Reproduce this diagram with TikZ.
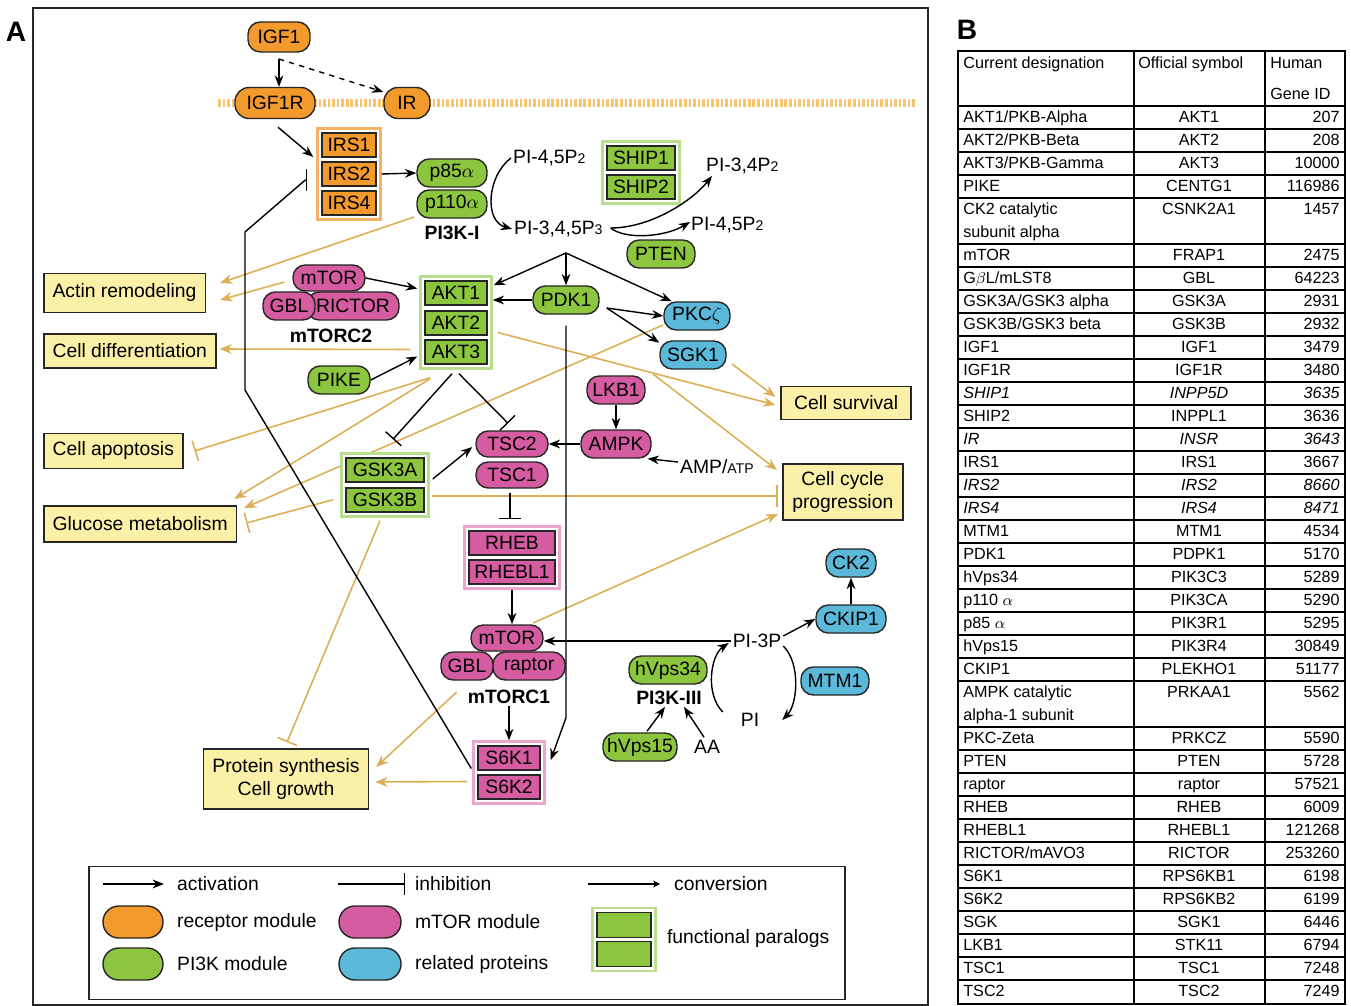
\documentclass[tikz,border=0pt]{standalone}
\usepackage{fontspec}
\setmainfont{Liberation Sans}
\usetikzlibrary{arrows.meta,shapes.misc,fit,calc,positioning}

\definecolor{recorange}{HTML}{F39A2C}
\definecolor{membr}{HTML}{F7C476}
\definecolor{paraorange}{HTML}{F5B262}
\definecolor{pigreen}{HTML}{8CC63F}
\definecolor{paragreen}{HTML}{B9DE8E}
\definecolor{mtpink}{HTML}{D55CA0}
\definecolor{parapink}{HTML}{EBA6D0}
\definecolor{relblue}{HTML}{5BB8D8}
\definecolor{outyellow}{HTML}{FAF0A8}
\definecolor{effgold}{HTML}{DDAF55}

\pgfdeclarelayer{back}
\pgfdeclarelayer{frame}
\pgfsetlayers{back,frame,main}

\tikzset{
  boxw/.style={minimum width=#1*0.02cm},
  boxh/.style={minimum height=#1*0.02cm},
  lbl/.style={font=\fontsize{11}{13}\selectfont, inner sep=1pt},
  cplx/.style={font=\bfseries\fontsize{11}{13}\selectfont, inner sep=1pt},
  prot/.style={rectangle, rounded corners=7pt, draw=black!85, line width=0.8pt, boxh=28, inner xsep=2pt, inner ysep=0pt, font=\fontsize{11}{13}\selectfont},
  recmod/.style={prot, fill=recorange},
  pimod/.style={prot, fill=pigreen},
  mtmod/.style={prot, fill=mtpink},
  relmod/.style={prot, fill=relblue},
  paralog/.style={rectangle, draw=black!85, line width=0.8pt, boxh=24, inner sep=0pt, font=\fontsize{11}{13}\selectfont},
  famframe/.style={rectangle, draw=#1, line width=1.3pt, fill=white, inner sep=2.2pt},
  effect/.style={rectangle, draw=black!85, line width=0.9pt, fill=outyellow, inner xsep=5pt, boxh=35, font=\fontsize{11}{13}\selectfont, align=center},
  act/.style={-{Stealth[length=6.5pt,width=5pt]}, line width=0.8pt},
  inh/.style={-{Bar[width=12pt,line width=0.8pt]}, line width=0.8pt},
  gact/.style={draw=effgold, -{Stealth[length=7pt,width=5.5pt]}, line width=0.9pt},
  ginh/.style={draw=effgold, -{Bar[width=12pt]}, line width=0.9pt},
  tcell/.style={font=\fontsize{9.2}{13}\selectfont, inner sep=0pt},
}

\newcommand{\lowdigit}[1]{{\fontsize{8}{8}\selectfont #1}}
% one line of the gene table: key, y, designation, symbol, gene id
\newcommand{\genrow}[5]{%
  \node[tcell,anchor=mid west] (d#1) at (963,#2) {#3};
  \node[tcell,anchor=mid] (s#1) at (1199,#2) {#4};
  \node[tcell,anchor=mid east] (g#1) at (1340,#2) {#5};}

\begin{document}
\begin{tikzpicture}[x=0.02cm,y=-0.02cm]
\useasboundingbox (0,0) rectangle (1351,1006);

% panel A
\draw[line width=1pt, draw=black!85] (33,8) rectangle (928,1005);
\node[font=\bfseries\fontsize{16}{16}\selectfont] (panelA) at (16,32) {A};
\begin{pgfonlayer}{back}
\draw[membr, line width=5pt, dash pattern=on 1.5pt off 1.1pt] (218,103) -- (915,103);
\end{pgfonlayer}

% receptor module
\node[recmod, boxw=62, boxh=30] (IGF1) at (279,37) {IGF1};
\node[recmod, boxw=80, boxh=31, rounded corners=8pt] (IGF1R) at (275,103) {IGF1R};
\node[recmod, boxw=46, boxh=31, rounded corners=8pt] (IR) at (407,103) {IR};
\node[paralog, fill=recorange, boxw=54] (IRS1) at (349,145) {IRS1};
\node[paralog, fill=recorange, boxw=54] (IRS2) at (349,174) {IRS2};
\node[paralog, fill=recorange, boxw=54] (IRS4) at (349,203) {IRS4};

% PI3K class I and lipids
\node[pimod, boxw=70] (p85) at (452,173) {p85$\alpha$};
\node[pimod, boxw=70] (p110) at (452,204) {p110$\alpha$};
\node[cplx] (PIthreeKI) at (452,233) {PI3K-I};
\node[lbl, anchor=west] (PIPtwoA) at (511,158) {PI-4,5P\lowdigit{2}};
\node[lbl, anchor=west] (PIPthree) at (512,229) {PI-3,4,5P\lowdigit{3}};
\node[paralog, fill=pigreen, boxw=68] (SHIP1) at (641,158) {SHIP1};
\node[paralog, fill=pigreen, boxw=68] (SHIP2) at (641,187) {SHIP2};
\node[lbl, anchor=west] (PIPtwoC) at (704,166) {PI-3,4P\lowdigit{2}};
\node[lbl, anchor=west] (PIPtwoB) at (689,225) {PI-4,5P\lowdigit{2}};
\node[pimod, boxw=68] (PTEN) at (661,254) {PTEN};

% mTORC2, AKT, PDK1
\node[mtmod, boxw=92] (RICTOR) at (353,306) {RICTOR};
\node[mtmod, boxw=52] (GBLb) at (289,306) {GBL};
\node[mtmod, boxw=72, boxh=26] (mTORb) at (329,278) {mTOR};
\node[cplx] (mTORCtwo) at (331,336) {mTORC2};
\node[paralog, fill=pigreen, boxw=62] (AKT1) at (456,293) {AKT1};
\node[paralog, fill=pigreen, boxw=62] (AKT2) at (456,323) {AKT2};
\node[paralog, fill=pigreen, boxw=62] (AKT3) at (456,352) {AKT3};
\node[pimod, boxw=62] (PIKE) at (339,380) {PIKE};
\node[pimod, boxw=66] (PDK1) at (566,300) {PDK1};
\node[relmod, boxw=66] (PKCz) at (697,316) {PKC$\zeta$};
\node[relmod, boxw=66] (SGK1) at (693,355) {SGK1};

% TSC, AMPK, GSK3
\node[mtmod, boxw=58] (LKB1) at (616,390) {LKB1};
\node[mtmod, boxw=70] (AMPK) at (616,444) {AMPK};
\node[lbl, anchor=west] (AMPATP) at (678,467) {AMP/{\fontsize{8}{8}\selectfont ATP}};
\node[mtmod, boxw=72, boxh=26] (TSC2) at (512,444) {TSC2};
\node[mtmod, boxw=72, boxh=26] (TSC1) at (512,475) {TSC1};
\node[paralog, fill=pigreen, boxw=78] (GSK3A) at (385,470) {GSK3A};
\node[paralog, fill=pigreen, boxw=78] (GSK3B) at (385,500) {GSK3B};
\node[paralog, fill=mtpink, boxw=86] (RHEB) at (512,543) {RHEB};
\node[paralog, fill=mtpink, boxw=86] (RHEBL1) at (512,572) {RHEBL1};

% mTORC1 and S6K
\node[mtmod, boxw=72] (raptor) at (529,666) {raptor};
\node[mtmod, boxw=52] (GBLa) at (467,666) {GBL};
\node[mtmod, boxw=72, boxh=26] (mTORa) at (507,638) {mTOR};
\node[cplx] (mTORCone) at (509,697) {mTORC1};
\node[paralog, fill=mtpink, boxw=62] (S6K1) at (509,758) {S6K1};
\node[paralog, fill=mtpink, boxw=62] (S6K2) at (509,787) {S6K2};

% PI3K class III
\node[lbl] (PIthreeP) at (757,641) {PI-3P};
\node[lbl] (PI) at (750,720) {PI};
\node[relmod, boxw=70] (CKIP1) at (851,619) {CKIP1};
\node[relmod, boxw=50] (CK2) at (851,563) {CK2};
\node[relmod, boxw=68] (MTM1) at (835,681) {MTM1};
\node[pimod, boxw=78] (hVpsA) at (668,670) {hVps34};
\node[cplx] (PIthreeKIII) at (669,698) {PI3K-III};
\node[pimod, boxw=74] (hVpsB) at (640,747) {hVps15};
\node[lbl] (AA) at (707,747) {AA};

% cellular outcomes
\node[effect, anchor=west, boxh=39] (Actin) at (43,293) {Actin remodeling};
\node[effect, anchor=west, boxh=34] (CellDiff) at (43,351) {Cell differentiation};
\node[effect, anchor=west] (Apopt) at (43,451) {Cell apoptosis};
\node[effect, anchor=west, boxh=36] (Glucose) at (43,524) {Glucose metabolism};
\node[effect, anchor=east, boxw=130, boxh=33] (Survival) at (912,403) {Cell survival};
\node[effect, anchor=west, boxw=120, boxh=56] (CellCycle) at (782,492) {Cell cycle\\progression};
\node[effect, boxw=164, boxh=60] (Protein) at (286,779) {Protein synthesis\\Cell growth};

% legend
\node[draw=black!85, line width=1pt, boxw=756, boxh=133, inner sep=0pt] (legend) at (467,933) {};
\node[lbl, anchor=west] (legactlbl) at (175,884) {activation};
\node[lbl, anchor=west] (leginhlbl) at (413,884) {inhibition};
\node[lbl, anchor=west] (legconvlbl) at (672,884) {conversion};
\node[recmod, boxw=60, boxh=32, rounded corners=9pt] (legrec) at (133,922) {};
\node[lbl, anchor=west] (legreclbl) at (175,922) {receptor module};
\node[pimod, boxw=60, boxh=32, rounded corners=9pt] (legpi) at (133,964) {};
\node[lbl, anchor=west] (legpilbl) at (175,964) {PI3K module};
\node[mtmod, boxw=62, boxh=32, rounded corners=9pt] (legmt) at (370,922) {};
\node[lbl, anchor=west] (legmtlbl) at (413,922) {mTOR module};
\node[relmod, boxw=62, boxh=32, rounded corners=9pt] (legrel) at (370,964) {};
\node[lbl, anchor=west] (legrellbl) at (413,964) {related proteins};
\node[paralog, fill=pigreen, boxw=54, boxh=25] (legpa) at (624,925) {};
\node[paralog, fill=pigreen, boxw=54, boxh=25] (legpb) at (624,954) {};
\node[lbl, anchor=west] (legparlbl) at (665,938) {functional paralogs};
\coordinate (legact) at (103,884);
\coordinate (leginh) at (338,884);
\coordinate (legconv) at (588,884);
\draw[act] (legact) -- ($(legactlbl.west)+(-11,0)$);
\draw[inh] (leginh) -- ($(leginhlbl.west)+(-8,0)$);
\draw[-{Stealth[length=4pt,width=4pt]}, line width=0.8pt] (legconv) -- ($(legconvlbl.west)+(-12,0)$);

% paralog frames
\begin{pgfonlayer}{frame}
\node[famframe=paraorange, fit=(IRS1) (IRS4)] (IRSbox) {};
\node[famframe=paragreen, fit=(SHIP1) (SHIP2)] (SHIPbox) {};
\node[famframe=paragreen, fit=(AKT1) (AKT3)] (AKTbox) {};
\node[famframe=paragreen, fit=(GSK3A) (GSK3B)] (GSKbox) {};
\node[famframe=parapink, fit=(RHEB) (RHEBL1)] (RHEBbox) {};
\node[famframe=parapink, fit=(S6K1) (S6K2)] (S6Kbox) {};
\node[famframe=paragreen, fit=(legpa) (legpb)] (legpar) {};
\end{pgfonlayer}

% signalling (black)
\coordinate (IGFsplit) at (279,59);
\draw[act] (IGFsplit) -- (IGFsplit |- IGF1R.north);
\draw[act, dashed] (IGFsplit) -- (IR.155);
\draw[act] ($(IGF1R.south)+(3,8)$) -- ($(IRSbox.west)+(-3,-17)$);
\coordinate (fbA) at (245,390);
\coordinate (fbB) at (245,232);
\draw[inh] ($(S6Kbox.west)+(-1,-4)$) -- (fbA) -- (fbB) -- ($(IRSbox.west)+(-11,6)$) -- ($(IRSbox.west)+(-9,6)$);
\draw[act] (IRSbox.east |- IRS2) -- (p85.west);
\draw[act] (PIPtwoA.west) .. controls +(-24,18) and +(-28,-8) .. (PIPthree.west);
\coordinate (PIPout) at ($(PIPthree.east)+(6,-1)$);
\draw[act] (PIPout) .. controls +(40,0) and +(-20,25) .. ($(PIPtwoC.west)+(8,10)$);
\draw[act] (PIPout) .. controls +(15,12) and +(-25,15) .. ($(PIPtwoB.west)+(1,-3)$);
\coordinate (PIfork) at (566,253);
\draw[act] (PIfork) -- ($(AKTbox.north east)+(1,10)$);
\draw[act] (PIfork) -- (PDK1.north);
\draw[act] (PIfork) -- (PKCz.150);
\draw[act] (PDK1.west) -- (PDK1.west -| AKTbox.east);
\coordinate (PDKout) at ($(PDK1.east)+(7,8)$);
\draw[act] (PDKout) -- (PKCz.west);
\draw[act] (PDKout) -- (SGK1.160);
\draw[act] ($(PDK1.south)+(0,11)$) -- ($(PDK1.south)+(0,403)$) -- ($(S6K1.east)+(10,2)$);
\draw[act] (mTORb.east) -- ($(AKTbox.west)+(-2,-34)$);
\draw[act] (PIKE.east) -- ($(AKTbox.west)+(-2,34)$);
\draw[inh] ($(AKTbox.south)+(-4,4)$) -- ($(GSKbox.north)+(8,-13)$);
\draw[inh] ($(AKTbox.south)+(3,4)$) -- ($(TSC2.north)+(-4,-7)$);
\draw[act] ($(GSK3A.east)+(8,9)$) -- ($(TSC2.west)+(-3,3)$);
\draw[inh] ($(TSC1.south)+(-2,4)$) -- ($(RHEBbox.north)+(-2,-6)$);
\draw[act] (LKB1.south) -- (AMPK.north);
\draw[act] (AMPK.west) -- (TSC2.east);
\draw[act] ($(AMPATP.west)+(0,-5)$) -- (AMPK.-25);
\draw[act] (RHEBbox.south) -- (RHEBbox.south |- mTORa.north);
\draw[act] (mTORCone.south) -- (mTORCone.south |- S6Kbox.north);
\draw[act] (PIthreeP.west) -- (PIthreeP.west -| mTORa.east);
\draw[act] ($(PIthreeP.east)+(0,-5)$) -- (CKIP1.west);
\draw[act] (CKIP1.north) -- (CK2.south);
\draw[act] ($(PI.west)+(-16,-8)$) .. controls +(-18,-18) and +(-18,12) .. ($(PIthreeP.west)+(-2,2)$);
\draw[act] ($(PIthreeP.east)+(0,5)$) .. controls +(18,18) and +(15,-15) .. ($(PI.east)+(21,0)$);
\draw[act] ($(hVpsB.north)+(7,-1)$) -- ($(PIthreeKIII.south)+(-4,0)$);
\draw[act] ($(AA.north)+(-3,-1)$) -- ($(PIthreeKIII.south)+(15,0)$);

% effects on cell behaviour (gold)
\begin{pgfonlayer}{back}
\draw[gact] ($(p110)+(-38,13)$) -- ($(Actin.east)+(14,-10)$);
\draw[gact] ($(mTORb.west)+(-8,4)$) -- ($(Actin.east)+(14,7)$);
\draw[gact] ($(AKTbox.west)+(-9,27)$) -- ($(CellDiff.east)+(3,-2)$);
\draw[ginh] ($(AKTbox.south west)+(11,8)$) -- ($(Apopt.east)+(11,0)$);
\draw[gact] ($(AKTbox.south west)+(11,9)$) -- ($(Glucose.east)+(-3,-25)$);
\draw[gact] ($(PKCz)+(-34,9)$) -- ($(Glucose.east)+(7,-16)$);
\draw[ginh] ($(GSKbox.south west)+(-7,-18)$) -- ($(Glucose.east)+(9,-1)$);
\draw[ginh] ($(GSKbox.east)+(2,11)$) -- ($(CellCycle.west)+(-4,4)$);
\draw[ginh] ($(GSKbox.south)+(-5,3)$) -- ($(Protein.north)+(1,-6)$);
\draw[gact] ($(mTORCone.west)+(-9,-5)$) -- ($(Protein.east)+(7,-12)$);
\draw[gact] ($(S6Kbox.west)+(-5,9)$) -- ($(Protein.east)+(6,3)$);
\draw[gact] ($(mTORa)+(26,-15)$) -- ($(CellCycle.west)+(-4,22)$);
\draw[gact] ($(AKTbox.east)+(5,10)$) -- ($(Survival.west)+(-5,2)$);
\draw[gact] ($(SGK1)+(39,9)$) -- ($(Survival.west)+(-5,-6)$);
\draw[gact] ($(SGK1)+(-40,19)$) -- ($(CellCycle.west)+(-5,-22)$);
\end{pgfonlayer}

% panel B: gene table
\node[font=\bfseries\fontsize{16}{16}\selectfont] (panelB) at (967,30) {B};
\draw[line width=1.4pt] (958,51) rectangle (1345,1004);
\draw[line width=1.4pt] (958,106) -- (1345,106);
\draw[line width=0.7pt] (1134,51) -- (1134,1004) (1265,51) -- (1265,1004);
\foreach \y in {129,152,175,198,244,267,290,313,336,359,382,405,428,451,474,497,520,543,566,589,612,635,658,681,727,750,773,796,819,842,865,888,911,934,957,980}
  \draw[line width=0.7pt] (958,\y) -- (1345,\y);
\node[tcell, anchor=mid west] (hdesig) at (963,64) {Current designation};
\node[tcell, anchor=mid west] (hsym) at (1138,64) {Official symbol};
\node[tcell, anchor=mid west] (hhuman) at (1270,64) {Human};
\node[tcell, anchor=mid west] (hgene) at (1270,95) {Gene ID};
\genrow{akta}{118}{AKT1/PKB-Alpha}{AKT1}{207}
\genrow{aktb}{141}{AKT2/PKB-Beta}{AKT2}{208}
\genrow{aktc}{164}{AKT3/PKB-Gamma}{AKT3}{10000}
\genrow{pike}{187}{PIKE}{CENTG1}{116986}
\genrow{ck}{210}{\parbox[t]{3cm}{CK2 catalytic\\subunit alpha}}{CSNK2A1}{1457}
\genrow{mtor}{256}{mTOR}{FRAP1}{2475}
\genrow{gbl}{279}{G$\beta$L/mLST8}{GBL}{64223}
\genrow{gska}{302}{GSK3A/GSK3 alpha}{GSK3A}{2931}
\genrow{gskb}{325}{GSK3B/GSK3 beta}{GSK3B}{2932}
\genrow{igf}{348}{IGF1}{IGF1}{3479}
\genrow{igfr}{371}{IGF1R}{IGF1R}{3480}
\genrow{shipa}{394}{\itshape SHIP1}{\itshape INPP5D}{\itshape 3635}
\genrow{shipb}{417}{SHIP2}{INPPL1}{3636}
\genrow{ir}{440}{\itshape IR}{\itshape INSR}{\itshape 3643}
\genrow{irsa}{463}{IRS1}{IRS1}{3667}
\genrow{irsb}{486}{\itshape IRS2}{\itshape IRS2}{\itshape 8660}
\genrow{irsd}{509}{\itshape IRS4}{\itshape IRS4}{\itshape 8471}
\genrow{mtm}{532}{MTM1}{MTM1}{4534}
\genrow{pdk}{555}{PDK1}{PDPK1}{5170}
\genrow{vpsa}{578}{hVps34}{PIK3C3}{5289}
\genrow{pcat}{601}{p110 $\alpha$}{PIK3CA}{5290}
\genrow{preg}{624}{p85 $\alpha$}{PIK3R1}{5295}
\genrow{vpsb}{647}{hVps15}{PIK3R4}{30849}
\genrow{ckip}{670}{CKIP1}{PLEKHO1}{51177}
\genrow{ampk}{693}{\parbox[t]{3cm}{AMPK catalytic\\alpha-1 subunit}}{PRKAA1}{5562}
\genrow{pkc}{739}{PKC-Zeta}{PRKCZ}{5590}
\genrow{pten}{762}{PTEN}{PTEN}{5728}
\genrow{raptor}{785}{raptor}{raptor}{57521}
\genrow{rheb}{808}{RHEB}{RHEB}{6009}
\genrow{rhebl}{831}{RHEBL1}{RHEBL1}{121268}
\genrow{rictor}{854}{RICTOR/mAVO3}{RICTOR}{253260}
\genrow{sixa}{877}{S6K1}{RPS6KB1}{6198}
\genrow{sixb}{900}{S6K2}{RPS6KB2}{6199}
\genrow{sgk}{923}{SGK}{SGK1}{6446}
\genrow{lkb}{946}{LKB1}{STK11}{6794}
\genrow{tsca}{969}{TSC1}{TSC1}{7248}
\genrow{tscb}{992}{TSC2}{TSC2}{7249}
\end{tikzpicture}
\end{document}
